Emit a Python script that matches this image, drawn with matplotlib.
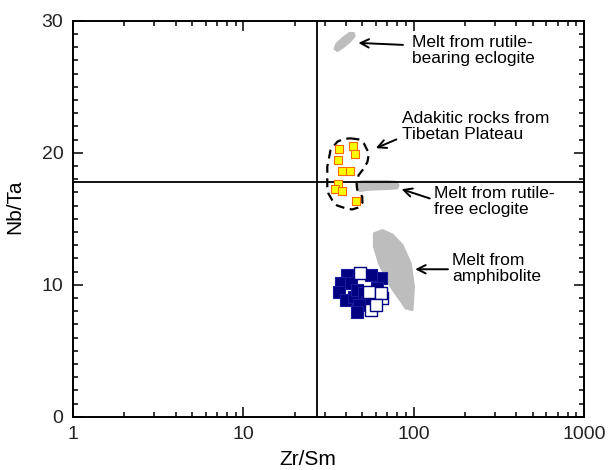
import matplotlib
matplotlib.use('Agg')
import matplotlib.pyplot as plt
from matplotlib.ticker import MultipleLocator, FixedLocator, NullFormatter

plt.rcParams['font.family'] = ['Liberation Sans', 'DejaVu Sans']

# Adakitic rocks from Tibetan Plateau (yellow squares)
adakite_zrsm = [36.4, 44.2, 45.2, 35.9, 38.1, 42.2, 35.9, 34.4, 38.1, 45.6]
adakite_nbta = [20.28, 20.53, 19.88, 19.45, 18.64, 18.64, 17.63, 17.25, 17.12, 16.36]

# navy samples, filled and open
filled_zrsm = [40.7, 37.2, 42.6, 36.4, 39.8, 44.6, 46.6, 51.0, 53.4, 47.7, 46.6, 63.9, 55.8, 61.1]
filled_nbta = [10.73, 10.11, 10.11, 9.47, 8.84, 9.09, 9.60, 9.35, 8.71, 8.46, 7.95, 10.48, 10.73, 9.73]
open_zrsm = [48.3, 54.6, 65.5, 64.0, 55.8, 60.0]
open_nbta = [10.86, 9.47, 8.97, 9.35, 8.08, 8.46]

# gray melt fields (outline vertices)
rutile_bearing_x = [34.3, 35.2, 38.2, 42.0, 44.4, 45.0, 42.6, 38.7, 35.7]
rutile_bearing_y = [27.86, 28.24, 28.69, 29.07, 29.07, 28.84, 28.46, 28.01, 27.71]
rutile_free_x = [46.5, 50.0, 70.0, 79.0, 81.5, 80.0, 70.0, 55.0, 48.0, 46.0]
rutile_free_y = [17.75, 17.85, 17.85, 17.8, 17.55, 17.3, 17.25, 17.2, 17.1, 17.4]
amphib_x = [58.4, 65.5, 75.0, 85.9, 96.0, 100.4, 98.3, 89.8, 73.2, 62.5, 58.4]
amphib_y = [13.89, 14.14, 13.8, 13.01, 11.62, 9.85, 8.08, 8.21, 9.85, 11.62, 12.90]

# dashed outline around adakites
outline_x = [42.6, 48.0, 51.0, 54.6, 53.5, 51.0, 47.5, 46.2, 46.6, 49.9, 50.0, 47.7, 43.5,
             39.8, 35.5, 33.2, 31.6, 31.1, 31.1, 32.5, 35.6, 38.8, 42.6]
outline_y = [21.09, 21.0, 20.71, 19.95, 19.3, 18.82, 18.3, 17.75, 17.2, 16.67, 16.2, 15.86, 15.7,
             15.79, 16.0, 16.42, 16.9, 17.42, 18.94, 20.20, 20.83, 21.05, 21.09]

ref_zrsm = 27
ref_nbta = 17.8

fig = plt.figure(figsize=(6.1, 4.7), dpi=100)
ax = fig.add_axes([0.1197, 0.1134, 0.8377, 0.8425])
ax.set_xscale('log')
ax.set_xlim(1, 1000)
ax.set_ylim(0, 30)

gray = '#bdbdbd'
ax.fill(rutile_bearing_x, rutile_bearing_y, color=gray, lw=1.5, joinstyle='round', zorder=1)
ax.fill(rutile_free_x, rutile_free_y, color=gray, lw=1.5, joinstyle='round', zorder=1)
ax.fill(amphib_x, amphib_y, color=gray, lw=1.5, joinstyle='round', zorder=1)

ax.axvline(ref_zrsm, color='black', lw=1.3, zorder=2)
ax.axhline(ref_nbta, color='black', lw=1.3, zorder=2)

ax.plot(outline_x, outline_y, color='black', lw=1.6, ls=(0, (4, 2.5)),
        solid_joinstyle='round', zorder=3)

ax.scatter(filled_zrsm, filled_nbta, marker='s', s=68, facecolor='#000080',
           edgecolor='#1a1aa0', linewidth=0.8, zorder=4)
ax.scatter(open_zrsm, open_nbta, marker='s', s=68, facecolor='white',
           edgecolor='#000080', linewidth=1.0, zorder=4)
ax.scatter(adakite_zrsm, adakite_nbta, marker='s', s=38, facecolor='#ffff00',
           edgecolor='#ff6a00', linewidth=0.8, zorder=5)

arrow = dict(arrowstyle='->', color='black', lw=1.4, mutation_scale=15)
fs = 12.5
ls = 1.08
ax.annotate('', xy=(45.6, 28.33), xytext=(89.8, 28.16), arrowprops=arrow)
ax.text(98, 27.75, 'Melt from rutile-\nbearing eclogite', fontsize=fs,
        ha='left', va='center', linespacing=ls)
ax.annotate('', xy=(57.9, 20.26), xytext=(81.9, 21.09), arrowprops=arrow)
ax.text(85, 22.02, 'Adakitic rocks from\nTibetan Plateau', fontsize=fs,
        ha='left', va='center', linespacing=ls)
ax.annotate('', xy=(81.9, 17.30), xytext=(128.8, 16.47), arrowprops=arrow)
ax.text(131, 16.30, 'Melt from rutile-\nfree eclogite', fontsize=fs,
        ha='left', va='center', linespacing=ls)
ax.annotate('', xy=(98.3, 11.17), xytext=(165, 11.17), arrowprops=arrow)
ax.text(169, 11.24, 'Melt from\namphibolite', fontsize=fs,
        ha='left', va='center', linespacing=ls)

ax.xaxis.set_major_locator(FixedLocator([1, 10, 100, 1000]))
ax.set_xticklabels(['1', '10', '100', '1000'])
ax.xaxis.set_minor_formatter(NullFormatter())
ax.yaxis.set_major_locator(MultipleLocator(10))
ax.yaxis.set_minor_locator(MultipleLocator(1))
ax.tick_params(which='both', direction='in', top=True, right=True, width=1.1,
               labelsize=14, labelcolor='#222222', pad=7)
ax.tick_params(which='major', length=7)
ax.tick_params(which='minor', length=3.5)
for sp in ax.spines.values():
    sp.set_linewidth(1.4)

ax.set_xlabel('Zr/Sm', fontsize=15)
ax.set_ylabel('Nb/Ta', fontsize=15)
ax.xaxis.set_label_coords(0.46, -0.085)
ax.yaxis.set_label_coords(-0.095, 0.53)

fig.savefig('out.png', dpi=100)
